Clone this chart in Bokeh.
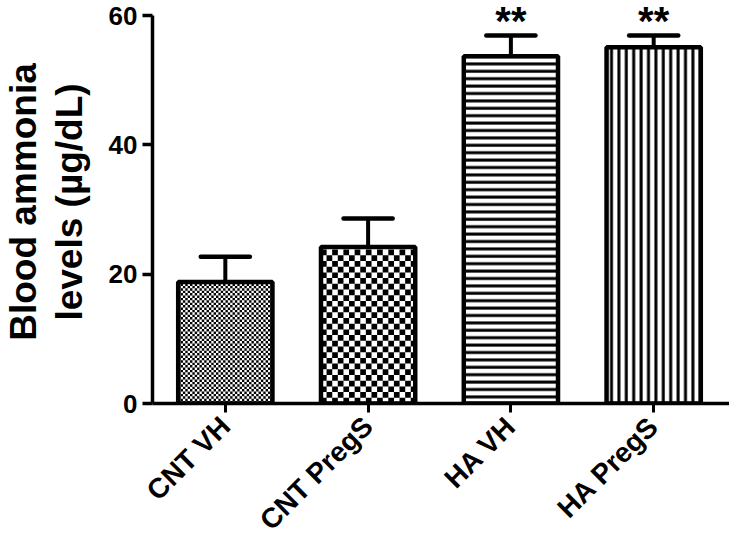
import numpy as np
from bokeh.plotting import figure
from bokeh.models import ColumnDataSource, FixedTicker, Range1d
from bokeh.core.properties import value
from bokeh.embed import file_html
from bokeh.resources import INLINE

# ---- data ----
groups = ["CNT VH", "CNT PregS", "HA VH", "HA PregS"]
means = [18.8, 24.2, 53.7, 55.1]
errors = [3.9, 4.4, 3.2, 1.8]
stars = ["", "", "**", "**"]
y_ticks = [0, 20, 40, 60]

FONT = "Liberation Sans"
W, H = 729, 550
FL, FB = 143, 147          # frame left / bottom border
x0, x1 = -0.51, 3.531
y0, y1 = 0, 62.32
pxx = (W - FL) / (x1 - x0)
pxy = (H - FB) / (y1 - y0)
bw = 0.66

p = figure(width=W, height=H, output_backend="svg", toolbar_location=None,
           x_range=Range1d(x0, x1), y_range=Range1d(y0, y1),
           min_border_left=FL, min_border_right=0, min_border_top=0,
           min_border_bottom=FB)
p.outline_line_color = None
p.grid.visible = False
p.background_fill_color = "white"

xs = list(range(len(groups)))

# checkerboard fills (cells derived from the data heights)
def checker(xc, top, cell):
    cx, cy = [], []
    left = xc - bw / 2
    ncol = int(round(bw * pxx / cell))
    nrow = int(np.ceil(top * pxy / cell))
    for i in range(ncol):
        for j in range(nrow):
            if (i + j) % 2 == 0:
                xcen = left + (i + 0.5) * cell / pxx
                ycen = (j + 0.5) * cell / pxy
                if ycen < top:
                    cx.append(xcen)
                    cy.append(ycen)
    return cx, cy

cx, cy = checker(xs[0], means[0], 2.4)
p.rect(cx, cy, width=2.4, height=2.4, width_units="screen", height_units="screen",
       fill_color="black", line_color=None)
cx, cy = checker(xs[1], means[1], 5.7)
p.rect(cx, cy, width=5.7, height=5.7, width_units="screen", height_units="screen",
       fill_color="black", line_color=None)

# hatched bars
p.vbar(x=[xs[2]], top=[means[2]], width=bw, fill_color="white", line_color=None,
       hatch_pattern="horizontal_line", hatch_scale=7.4, hatch_weight=3, hatch_color="black")
p.vbar(x=[xs[3]], top=[means[3]], width=bw, fill_color="white", line_color=None,
       hatch_pattern="vertical_line", hatch_scale=7.4, hatch_weight=3, hatch_color="black")

# error bars
tops = [m + e for m, e in zip(means, errors)]
src = ColumnDataSource(dict(x=xs, m=means, t=tops,
                            xl=[x - 0.172 for x in xs], xr=[x + 0.172 for x in xs],
                            ys=[t + 2.2 for t in tops], s=stars))
p.segment(x0="x", y0="m", x1="x", y1="t", source=src, line_color="black", line_width=4)
p.segment(x0="xl", y0="t", x1="xr", y1="t", source=src, line_color="black",
          line_width=4.5, line_cap="round")

# outlines
p.vbar(x=xs, top=means, width=bw, fill_alpha=0, line_color="black", line_width=4.5)

# significance stars
p.text(x="x", y="ys", text="s", source=src, text_align="center",
       text_baseline="alphabetic", text_font=value(FONT), text_font_style="bold",
       text_font_size="40px", text_color="black")

# axes
yax = p.yaxis[0]
yax.ticker = FixedTicker(ticks=y_ticks)
yax.bounds = (0, 60)
yax.axis_line_width = 3.5
yax.axis_line_color = "black"
yax.major_tick_line_width = 3.5
yax.major_tick_line_color = "black"
yax.major_tick_out = 10
yax.major_tick_in = 0
yax.minor_tick_line_color = None
yax.major_label_text_font = FONT
yax.major_label_text_font_style = "bold"
yax.major_label_text_font_size = "26px"
yax.major_label_text_color = "black"
yax.major_label_standoff = 5
yax.axis_label = "Blood ammonia\nlevels (\u00b5g/dL)"
yax.axis_label_text_font = FONT
yax.axis_label_text_font_style = "bold"
yax.axis_label_text_font_size = "37px"
yax.axis_label_text_color = "black"
yax.axis_label_text_line_height = 1.1
yax.axis_label_standoff = 16

xax = p.xaxis[0]
xax.ticker = FixedTicker(ticks=xs)
xax.major_label_overrides = {i: g for i, g in enumerate(groups)}
xax.bounds = (x0, x1)
xax.axis_line_width = 3.5
xax.axis_line_color = "black"
xax.major_tick_line_width = 3
xax.major_tick_line_color = "black"
xax.major_tick_out = 9
xax.major_tick_in = 0
xax.minor_tick_line_color = None
xax.major_label_orientation = np.pi / 4
xax.major_label_text_font = FONT
xax.major_label_text_font_style = "bold"
xax.major_label_text_font_size = "28px"
xax.major_label_text_color = "black"
xax.major_label_standoff = 9

open("out.html", "w").write(file_html(p, INLINE))
